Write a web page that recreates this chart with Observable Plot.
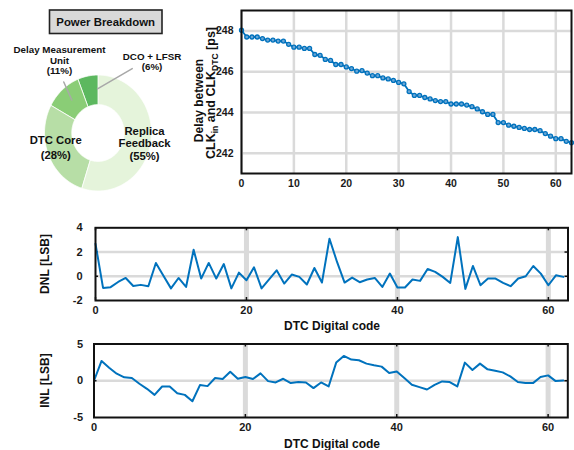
<!DOCTYPE html>
<html><head><meta charset="utf-8">
<script src="https://cdn.jsdelivr.net/npm/d3@7"></script>
<script src="https://cdn.jsdelivr.net/npm/@observablehq/plot@0.6"></script>
<style>
html,body{margin:0;padding:0;background:#fff;}
#wrap{position:relative;width:574px;height:450px;overflow:hidden;background:#fff;font-family:"Liberation Sans",Arial,sans-serif;}
#wrap > *{position:absolute;}
</style></head><body><div id="wrap"></div>
<script>
// ---------- data ----------
const sliceNames = ["Replica Feedback", "DTC Core", "Delay Measurement Unit", "DCO + LFSR"];
const sliceShares = [55, 28, 11, 6];
const sliceColors = ["#e5f4db", "#b7dea6", "#8acd76", "#5cb85f"];

const delayPs = [248.03, 247.70, 247.70, 247.70, 247.62, 247.55, 247.55, 247.50, 247.50, 247.34,
  247.20, 247.20, 247.14, 247.14, 246.84, 246.80, 246.60, 246.55, 246.35, 246.35,
  246.23, 246.15, 246.02, 246.05, 245.93, 245.80, 245.80, 245.69, 245.64, 245.57,
  245.47, 245.40, 245.02, 244.83, 244.83, 244.73, 244.66, 244.58, 244.53, 244.53,
  244.41, 244.41, 244.41, 244.36, 244.28, 244.17, 244.03, 243.90, 243.90, 243.50,
  243.50, 243.37, 243.32, 243.26, 243.21, 243.16, 243.16, 243.10, 242.96, 242.83,
  242.71, 242.71, 242.58, 242.51];

const dnl = [2.68, -0.96, -0.90, -0.47, -0.14, -0.80, -0.71, -0.82, 1.10, 0.05,
  -1.00, -0.14, -0.88, 2.19, -0.19, 1.10, -0.19, 1.01, -1.00, 0.30,
  -0.33, 0.74, -1.00, -0.25, 0.49, -0.60, 0.14, -0.05, -0.68, 0.68,
  -0.52, 3.10, 1.18, -0.52, -0.11, -0.49, -0.27, -0.14, -0.88, 0.22,
  -0.93, -0.93, -0.27, -0.38, 0.60, 0.36, -0.05, -0.55, 3.23, -1.04,
  0.85, -0.74, -0.19, -0.19, -0.55, -0.82, -0.19, 0.00, 0.85, 0.22,
  -0.74, 0.08, -0.05];

const inl = [0, 2.69, 1.78, 0.96, 0.46, 0.37, -0.41, -1.10, -1.92, -0.78,
  -0.78, -1.69, -1.92, -2.79, -0.59, -0.73, 0.37, 0.23, 1.23, 0.27,
  0.50, 0.23, 1.00, -0.05, -0.23, 0.27, -0.32, -0.18, -0.23, -1.00,
  -0.23, -0.78, 2.47, 3.38, 2.88, 2.79, 2.33, 2.10, 1.92, 1.05,
  1.25, 0.37, -0.55, -0.87, -1.19, -0.55, -0.09, -0.18, -0.78, 2.47,
  1.46, 2.33, 1.55, 1.37, 1.14, 0.59, -0.18, -0.32, -0.32, 0.50,
  0.73, -0.05, 0.05];

const topXTicks = [0, 10, 20, 30, 40, 50, 60];
const topYTicks = [242, 244, 246, 248];
const codeTicks = [0, 20, 40, 60];
const dnlYTicks = [-2, 0, 2, 4];
const inlYTicks = [-5, 0, 5];

// ---------- helpers ----------
const BLUE = "#0072BD";
const GRID = "#dadada";
const FONT = "'Liberation Sans', Arial, sans-serif";
const wrap = document.getElementById("wrap");
function place(el, left, top) { el.style.left = left + "px"; el.style.top = top + "px"; wrap.appendChild(el); }
const baseStyle = (fs) => ({fontFamily: FONT, fontSize: fs + "px", fontWeight: "bold", color: "#1a1a1a", background: "transparent", overflow: "visible"});
const fmt = d => String(d);

// ---------- donut ----------
const arcs = d3.pie().sort(null).value(d => d)(sliceShares);
const innerRatio = 0.49;
const ring = [];
arcs.forEach((a, i) => {
  const n = Math.max(2, Math.ceil((a.endAngle - a.startAngle) / (Math.PI / 180)));
  for (let k = 0; k <= n; k++) { const t = a.startAngle + (a.endAngle - a.startAngle) * k / n; ring.push({slice: sliceNames[i], x: Math.sin(t), y: Math.cos(t)}); }
  for (let k = n; k >= 0; k--) { const t = a.startAngle + (a.endAngle - a.startAngle) * k / n; ring.push({slice: sliceNames[i], x: innerRatio * Math.sin(t), y: innerRatio * Math.cos(t)}); }
});
const bigLabels = [
  {x: 0.87, y: -0.18, text: "Replica\nFeedback\n(55%)"},
];
const coreLabel = [{x: -0.79, y: -0.24, text: "DTC Core\n(28%)"}];
const smallLabels = [
  {x: -0.72, y: 1.25, text: "Delay Measurement\nUnit\n(11%)"},
  {x: 1.01, y: 1.23, text: "DCO + LFSR\n(6%)"}
];
const leaders = [
  {id: "d", x: -0.64, y: 0.88}, {id: "d", x: -0.49, y: 0.57},
  {id: "c", x: 0.64, y: 1.11}, {id: "c", x: -0.01, y: 0.76}
];
const pie = Plot.plot({
  width: 200, height: 200, marginLeft: 44, marginRight: 49, marginTop: 74.5, marginBottom: 9.5,
  x: {domain: [-1, 1], axis: null}, y: {domain: [-1, 1], axis: null},
  color: {domain: sliceNames, range: sliceColors},
  style: baseStyle(10),
  marks: [
    Plot.line(ring, {x: "x", y: "y", z: "slice", fill: "slice", stroke: "white", strokeWidth: 0.8, curve: "linear-closed"}),
    Plot.line(leaders, {x: "x", y: "y", z: "id", stroke: "#a8a8a8", strokeWidth: 1.5}),
    Plot.text(bigLabels, {x: "x", y: "y", text: "text", fontSize: 11.3, lineHeight: 1.1, fill: "#111"}),
    Plot.text(coreLabel, {x: "x", y: "y", text: "text", fontSize: 11.3, lineHeight: 1.3, fill: "#111"}),
    Plot.text(smallLabels, {x: "x", y: "y", text: "text", fontSize: 9.8, lineHeight: 1.08, fill: "#111"})
  ]
});
place(pie, 0, 0);

// ---------- top right: delay ----------
const topPlot = Plot.plot({
  width: 384, height: 200, marginLeft: 51, marginRight: 3, marginTop: 10, marginBottom: 27,
  x: {domain: [0, 63]}, y: {domain: [241, 249]},
  style: baseStyle(10.5),
  marks: [
    Plot.gridX(topXTicks, {stroke: GRID, strokeOpacity: 1, strokeWidth: 2.5}),
    Plot.gridY(topYTicks, {stroke: GRID, strokeOpacity: 1, strokeWidth: 2.5}),
    Plot.axisX(topXTicks, {tickSize: 0, tickPadding: 6, label: null, tickFormat: fmt}),
    Plot.axisY(topYTicks, {tickSize: 0, tickPadding: 8, label: null, tickFormat: fmt}),
    Plot.lineY(delayPs, {x: (d, i) => i, y: d => d, stroke: BLUE, strokeWidth: 1.8}),
    Plot.dot(delayPs, {x: (d, i) => i, y: d => d, r: 2, stroke: BLUE, strokeWidth: 1.3, fill: "#6aa6d6"}),
    Plot.frame({stroke: "#111", strokeWidth: 2})
  ]
});
place(topPlot, 190, 0);

// ---------- DNL / INL ----------
function codePlot(values, yDomain, yTicks, hTicks, opts) {
  const fh = opts.height - opts.marginTop - opts.marginBottom;
  const fw = opts.width - opts.marginLeft - opts.marginRight;
  return Plot.plot({
    ...opts,
    x: {domain: [0, 62.6]}, y: {domain: yDomain},
    style: baseStyle(11),
    marks: [
      Plot.ruleX(codeTicks.slice(1), {x: d => d, stroke: GRID, strokeWidth: 5}),
      Plot.ruleY(hTicks, {y: d => d, stroke: GRID, strokeWidth: 2.5}),
      Plot.tickX(codeTicks, {x: d => d, stroke: "#111", strokeWidth: 1.5, insetTop: fh - 3}),
      Plot.tickX(codeTicks, {x: d => d, stroke: "#111", strokeWidth: 1.5, insetBottom: fh - 3}),
      Plot.tickY(hTicks, {y: d => d, stroke: "#111", strokeWidth: 1.5, insetRight: fw - 3}),
      Plot.tickY(hTicks, {y: d => d, stroke: "#111", strokeWidth: 1.5, insetLeft: fw - 3}),
      Plot.axisX(codeTicks, {tickSize: 0, tickPadding: 6, label: null, tickFormat: fmt}),
      Plot.axisY(yTicks, {tickSize: 0, tickPadding: opts.padY, label: null, tickFormat: fmt}),
      Plot.lineY(values, {x: (d, i) => i, y: d => d, stroke: BLUE, strokeWidth: 2}),
      Plot.frame({stroke: "#111", strokeWidth: 2})
    ]
  });
}
const dnlPlot = codePlot(dnl, [-2, 4], dnlYTicks, [0, 2],
  {width: 574, height: 125, marginLeft: 95, marginRight: 6.5, marginTop: 17.3, marginBottom: 35, padY: 13});
place(dnlPlot, 0, 210);
const inlPlot = codePlot(inl, [-5, 5], inlYTicks, [0],
  {width: 574, height: 120, marginLeft: 93.5, marginRight: 6.7, marginTop: 13.5, marginBottom: 33, padY: 11});
place(inlPlot, 0, 330);

// ---------- overlay texts ----------
const NS = "http://www.w3.org/2000/svg";
const ov = document.createElementNS(NS, "svg");
ov.setAttribute("width", 574); ov.setAttribute("height", 450);
ov.style.pointerEvents = "none";
ov.innerHTML = `
<g font-family="${FONT}" font-weight="bold" fill="#111">
  <rect x="49.5" y="10" width="112.5" height="23.5" fill="#d9d9d9" stroke="#222" stroke-width="1.6"/>
  <text x="105.7" y="22" font-size="11.4" text-anchor="middle" dominant-baseline="central">Power Breakdown</text>
  <text transform="translate(203,100.5) rotate(-90)" font-size="12" text-anchor="middle">Delay between</text>
  <text transform="translate(215,93) rotate(-90)" font-size="12.5" text-anchor="middle">CLK<tspan font-size="8.5" dy="2.5">in</tspan><tspan dy="-2.5"> and CLK</tspan><tspan font-size="8.5" dy="2.5">DTC</tspan><tspan dy="-2.5"> [ps]</tspan></text>
  <text transform="translate(45,264) rotate(-90)" font-size="12" text-anchor="middle" dominant-baseline="central">DNL [LSB]</text>
  <text x="332" y="325.5" font-size="12" text-anchor="middle" dominant-baseline="central">DTC Digital code</text>
  <text transform="translate(45,380.5) rotate(-90)" font-size="12" text-anchor="middle" dominant-baseline="central">INL [LSB]</text>
  <text x="332" y="443.5" font-size="12" text-anchor="middle" dominant-baseline="central">DTC Digital code</text>
</g>`;
place(ov, 0, 0);
</script>
</body></html>
